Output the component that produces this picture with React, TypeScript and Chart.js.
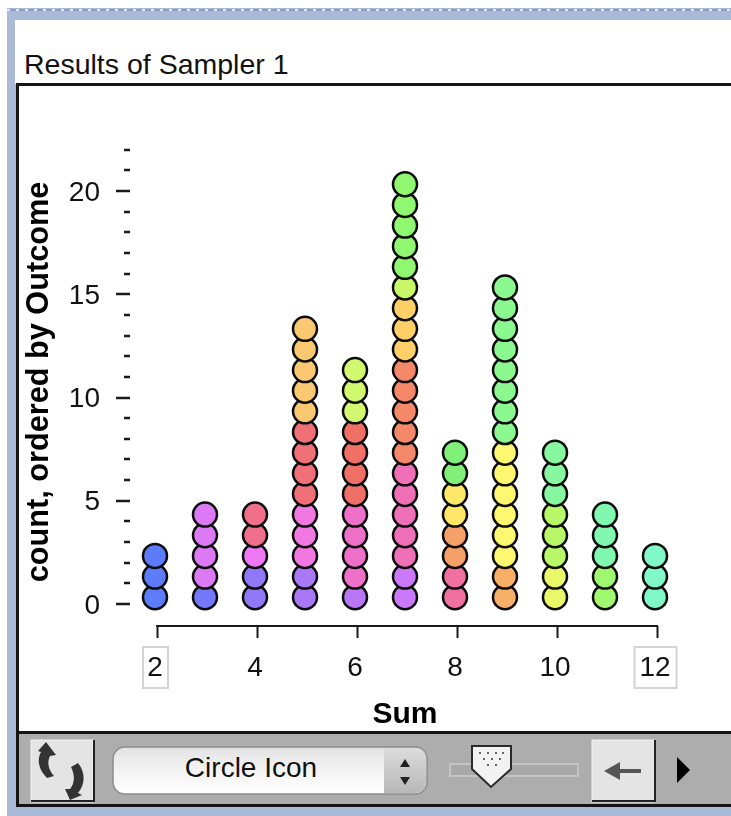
import React, { useEffect, useRef } from "react";
import { Chart, registerables } from "chart.js";

Chart.register(...registerables);

const sums = [2, 3, 4, 5, 6, 7, 8, 9, 10, 11, 12];
const groupCounts = [
  [3],
  [1, 4],
  [2, 1, 2],
  [2, 3, 4, 5],
  [1, 4, 4, 3],
  [2, 5, 5, 3, 1, 5],
  [2, 2, 2, 2],
  [2, 6, 8],
  [2, 3, 3],
  [2, 3],
  [3],
];
const groupColours = [
  ["#5c7cfc"],
  ["#7678fc", "#dc7af6"],
  ["#9078f8", "#ee78f6", "#f0708c"],
  ["#a878f6", "#f278e2", "#f07078", "#fac870"],
  ["#b878f6", "#ee70c8", "#f07068", "#d2f870"],
  ["#c878f8", "#f070b8", "#f58868", "#ffd068", "#c8f868", "#90f870"],
  ["#f070a0", "#f5a068", "#ffe868", "#80f078"],
  ["#f8b068", "#fef870", "#8cf890"],
  ["#e8f868", "#b8f868", "#88f8a0"],
  ["#a0f870", "#80f8b0"],
  ["#80f8c8"],
];
const yTicks = [0, 1, 2, 3, 4, 5, 6, 7, 8, 9, 10, 11, 12, 13, 14, 15, 16, 17, 18, 19, 20, 21, 22];
const xTicks = [2, 4, 6, 8, 10, 12];
const boxedTicks = [2, 12];
const chartTitle = "Results of Sampler 1";
const xTitle = "Sum";
const yTitle = "count, ordered by Outcome";
const menuLabel = "Circle Icon";

const stackOffset = 0.33;
const columnShift = -0.04;
const FONT = '"Liberation Sans", Arial, sans-serif';

const points: { x: number; y: number }[] = [];
const colours: string[] = [];
sums.forEach((sum, c) => {
  let level = 0;
  groupCounts[c].forEach((count, g) => {
    for (let i = 0; i < count; i++) {
      points.push({ x: sum + columnShift, y: level + stackOffset });
      colours.push(groupColours[c][g]);
      level++;
    }
  });
});

const axisPlugin = {
  id: "axisMarks",
  afterDraw(chart: any) {
    const ctx = chart.ctx;
    const x = chart.scales.x;
    const y = chart.scales.y;
    ctx.save();
    ctx.strokeStyle = "#1a1a1a";
    ctx.lineWidth = 2;
    ctx.beginPath();
    ctx.moveTo(x.getPixelForValue(2) - 1, chart.chartArea.bottom);
    ctx.lineTo(x.getPixelForValue(12) + 1, chart.chartArea.bottom);
    ctx.stroke();
    ctx.lineWidth = 2.5;
    yTicks.forEach((v) => {
      const p = Math.round(y.getPixelForValue(v));
      ctx.beginPath();
      ctx.moveTo(v % 5 === 0 ? 116 : 124, p);
      ctx.lineTo(130, p);
      ctx.stroke();
    });
    ctx.strokeStyle = "#d4d4d4";
    ctx.lineWidth = 2;
    boxedTicks.forEach((v) => {
      const cx = x.getPixelForValue(v) - 1.5;
      const half = v >= 10 ? 21 : 12.5;
      ctx.strokeRect(cx - half, 647, half * 2, 41);
    });
    ctx.restore();
  },
};

function Toolbar() {
  return (
    <div style={{ position: "absolute", left: 16, right: 0, top: 731, height: 76, background: "#adadad", borderTop: "3px solid #151515", borderBottom: "3px solid #151515", borderLeft: "3px solid #151515", boxSizing: "border-box" }}>
      <svg width="731" height="76" style={{ position: "absolute", left: -19, top: -3 }}>
        <defs>
          <linearGradient id="menu" x1="0" y1="0" x2="0" y2="1">
            <stop offset="0" stopColor="#e2e2e2" />
            <stop offset="0.45" stopColor="#f2f2f2" />
            <stop offset="1" stopColor="#ffffff" />
          </linearGradient>
          <linearGradient id="step" x1="0" y1="0" x2="0" y2="1">
            <stop offset="0" stopColor="#dcdcdc" />
            <stop offset="1" stopColor="#b8b8b8" />
          </linearGradient>
        </defs>
        {/* refresh button */}
        <rect x="31" y="9" width="62" height="62" fill="#e4e4e4" stroke="#f4f4f4" />
        <path d="M31 70H94V9" fill="none" stroke="#222" strokeWidth="2" />
        <path d="M46 11 L56 24 L50 25 C47 31 48 38 54 45 L47 47 C38 38 37 28 41 21 L38 20 Z" fill="#333" />
        <path d="M78 32 C86 42 85 54 78 62 L82 64 L70 69 L65 58 L70 58 C75 52 75 44 71 36 Z" fill="#333" />
        {/* menu */}
        <rect x="113" y="16" width="314" height="47" rx="12" fill="url(#menu)" stroke="#8c8c8c" strokeWidth="1.5" />
        <path d="M384 17H415Q426 17 426 29V50Q426 62 415 62H384Z" fill="url(#step)" />
        <path d="M405 28l-5 8h10zM405 54l-5-8h10z" fill="#222" />
        {/* slider */}
        <rect x="450" y="33" width="128" height="12" fill="#a8a8a8" stroke="#c4c4c4" strokeWidth="2" />
        <path d="M472 15H511V38L491 56 472 38Z" fill="#f2f2f2" stroke="#2a2a2a" strokeWidth="2" />
        {[480, 488, 496, 503, 484, 492, 500, 488, 496].map((x, i) => (
          <circle key={i} cx={x} cy={i < 4 ? 22 : i < 7 ? 28 : 34} r="1" fill="#333" />
        ))}
        {/* back button */}
        <rect x="592" y="9" width="62" height="62" fill="#e4e4e4" stroke="#f4f4f4" />
        <path d="M592 70H655V9" fill="none" stroke="#222" strokeWidth="2" />
        <path d="M604 40L620 31V38H641V42H620V49Z" fill="#555" />
        <path d="M677 26L690 39 677 52Z" fill="#000" />
      </svg>
      <div style={{ position: "absolute", left: 96, width: 272, top: 10, height: 47, font: `28px/48px ${FONT}`, textAlign: "center", color: "#111" }}>{menuLabel}</div>
    </div>
  );
}

export default function App() {
  const ref = useRef<HTMLCanvasElement>(null);
  useEffect(() => {
    const chart = new Chart(ref.current!, {
      type: "scatter",
      data: {
        datasets: [
          {
            data: points,
            backgroundColor: colours,
            borderColor: "#0c0c0c",
            borderWidth: 2.5,
            pointRadius: 12,
            pointHoverRadius: 12,
            clip: false,
          } as any,
        ],
      },
      plugins: [axisPlugin],
      options: {
        animation: false,
        responsive: false,
        layout: { padding: { top: 138, right: 51, left: 0, bottom: 83 } },
        plugins: { legend: { display: false }, title: { display: false }, tooltip: { enabled: false } },
        scales: {
          x: {
            type: "linear",
            min: 1.46,
            max: 12.46,
            afterBuildTicks: (s: any) => {
              s.ticks = xTicks.map((value) => ({ value }));
            },
            afterFit: (s: any) => {
              s.height = 107;
            },
            border: { display: false },
            grid: { drawOnChartArea: false, drawTicks: true, tickLength: 12, tickColor: "#1a1a1a", tickWidth: 2 },
            ticks: { autoSkip: false, maxRotation: 0, padding: 13, labelOffset: -2, color: "#111", font: { family: FONT, size: 28 } },
            title: { display: true, text: xTitle, color: "#000", padding: { top: 0, bottom: 0 }, font: { family: FONT, size: 30, weight: "bold" } },
          },
          y: {
            type: "linear",
            min: -1.065,
            max: 22.57,
            afterBuildTicks: (s: any) => {
              s.ticks = yTicks.map((value) => ({ value }));
            },
            afterFit: (s: any) => {
              s.width = 130;
            },
            border: { display: false },
            grid: { display: false, drawTicks: false },
            ticks: {
              autoSkip: false,
              padding: 30,
              labelOffset: 2,
              color: "#111",
              font: { family: FONT, size: 28 },
              callback: (v: any) => (Number(v) % 5 === 0 ? String(v) : ""),
            },
            title: { display: true, text: yTitle, color: "#000", padding: { top: 21, bottom: 0 }, font: { family: FONT, size: 30.7, weight: "bold" } },
          },
        },
      },
    } as any);
    return () => chart.destroy();
  }, []);

  return (
    <div style={{ position: "fixed", left: 0, top: 0, width: 731, height: 816, overflow: "hidden", background: "#fff", filter: "blur(0.6px)" }}>
      <div style={{ position: "absolute", left: 7, top: 8, right: 0, bottom: 0, background: "#a9b9d8" }} />
      <div style={{ position: "absolute", left: 7, top: 9, right: 0, height: 2, backgroundImage: "repeating-linear-gradient(90deg,#e0e6f2 0 3px,#8c9cc0 3px 9px)" }} />
      <div style={{ position: "absolute", left: 15, top: 20, right: 0, height: 64, background: "#fff" }} />
      <div style={{ position: "absolute", left: 16, top: 83, right: 0, height: 649, background: "#fff", borderTop: "3px solid #151515", borderLeft: "3px solid #151515", boxSizing: "border-box" }} />
      <div style={{ position: "absolute", left: 24, top: 48, font: `28.5px ${FONT}`, color: "#111", whiteSpace: "nowrap" }}>{chartTitle}</div>
      <canvas ref={ref} width={731} height={816} style={{ position: "absolute", left: 0, top: 0, display: "block" }} />
      <Toolbar />
    </div>
  );
}
